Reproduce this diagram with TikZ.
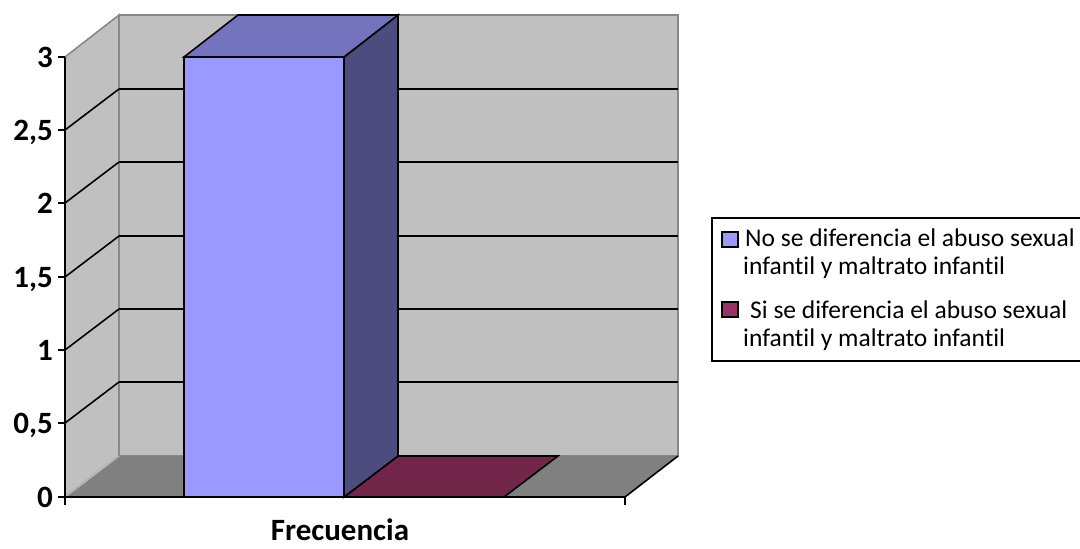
\documentclass[tikz,border=0pt]{standalone}
\usepackage{fontspec}
\setmainfont{Carlito}[Ligatures=NoCommon]
\definecolor{wall}{HTML}{C0C0C0}
\definecolor{floorc}{HTML}{808080}
\definecolor{edgec}{HTML}{888888}
\definecolor{barfront}{HTML}{9999FF}
\definecolor{bartop}{HTML}{7474BE}
\definecolor{barside}{HTML}{4C4C7E}
\definecolor{bartwo}{HTML}{72264A}
\definecolor{legtwo}{HTML}{993366}
\newcommand{\infa}{infant\kern0pt il}
\tikzset{
  wallface/.style={fill=wall, draw=edgec, line width=1.6pt},
  gridln/.style={draw=black, line width=1.6pt},
  baredge/.style={draw=black, line width=1.6pt, line join=miter},
  axisln/.style={draw=black, line width=1.6pt},
  ylab/.style={anchor=base east, font=\fontsize{31}{34}\selectfont\bfseries, inner sep=0pt},
  xlab/.style={anchor=base, font=\fontsize{31}{34}\selectfont\bfseries, inner sep=0pt},
  legtext/.style={anchor=base west, font=\fontsize{25.5}{28}\selectfont, inner sep=0pt},
  legsq/.style={draw=black, line width=1.6pt},
}
\begin{document}
\begin{tikzpicture}[x=1pt,y=-1pt]
\useasboundingbox (0,0) rectangle (1080,549);
\clip (0,0) rectangle (1080,549);
\fill[white] (0,0) rectangle (1080,549);
% walls
\path[wallface] (119,15) rectangle (678,456);
\path[wallface] (65,57) -- (119,15) -- (119,456) -- (65,497) -- cycle;
% floor
\path[fill=floorc] (65,497) -- (119,456) -- (678,456) -- (625,497) -- cycle;
\draw[draw=wall, line width=1.2pt] (65,497) -- (119,456);
\draw[draw=black, line width=1.6pt] (625,497) -- (678,456);
% gridlines
\foreach \v in {89,162,236,309,382}{
  \draw[gridln] (119,\v) -- (678,\v);
}
\foreach \f/\b in {130/89,203/162,277/236,350/309,423/382}{
  \draw[gridln] (65,\f) -- (119,\b);
}
% bar 2 (value 0)
\path[baredge, fill=bartwo] (344,497) -- (398,456) -- (558,456) -- (504,497) -- cycle;
% bar 1
\path[baredge, fill=barside] (344,57) -- (398,15) -- (398,456) -- (344,497) -- cycle;
\path[baredge, fill=bartop] (184,57) -- (238,15) -- (398,15) -- (344,57) -- cycle;
\path[baredge, fill=barfront] (184,57) rectangle (344,497);
% axes
\draw[axisln] (65,57) -- (65,497) -- (625,497);
\foreach \t in {57,130,203,277,350,423,497}{
  \draw[axisln] (58,\t) -- (65,\t);
}
\draw[axisln] (65,497) -- (65,505);
\draw[axisln] (625,497) -- (625,505);
% y labels
\node[ylab] (l3) at (53,67) {3};
\node[ylab] (l25) at (53,140) {2,5};
\node[ylab] (l2) at (53,213) {2};
\node[ylab] (l15) at (53,287) {1,5};
\node[ylab] (l1) at (53,360) {1};
\node[ylab] (l05) at (53,433) {0,5};
\node[ylab] (l0) at (53,507) {0};
\node[xlab] (xl) at (340,540) {Frecuencia};
% legend
\draw[draw=black, line width=1.6pt] (712,218) rectangle (1100,361);
\path[legsq, fill=barfront] (722,232) rectangle (738,247);
\path[legsq, fill=legtwo] (722,302) rectangle (738,317);
\node[legtext] (lg1) at (745,246) {No se diferencia el abuso sexual};
\node[legtext] (lg2) at (743,274) {\infa{} y maltrato \infa};
\node[legtext] (lg3) at (750,318) {Si se diferencia el abuso sexual};
\node[legtext] (lg4) at (743,346) {\infa{} y maltrato \infa};
\end{tikzpicture}
\end{document}
